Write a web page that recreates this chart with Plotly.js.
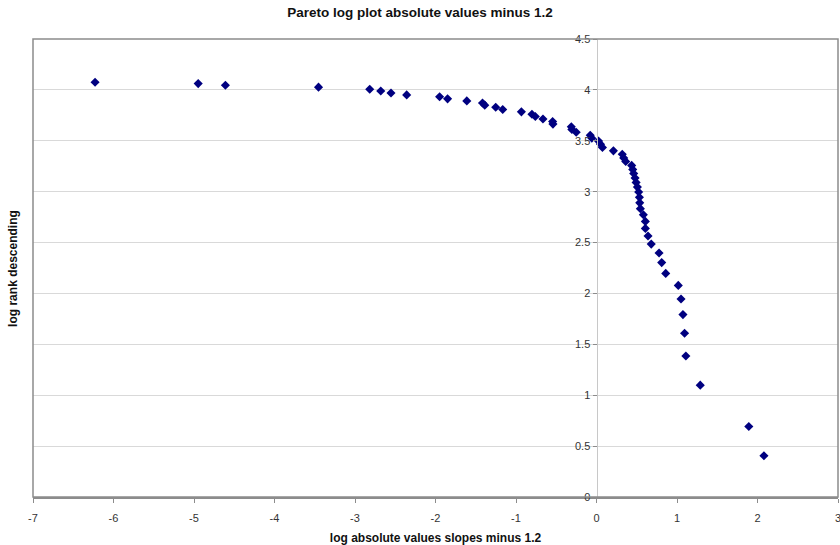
<!DOCTYPE html>
<html>
<head>
<meta charset="utf-8">
<script src="https://cdn.plot.ly/plotly-3.0.1.min.js"></script>
<style>html,body{margin:0;padding:0;background:#fff;}#chart{width:840px;height:545px;}</style>
</head>
<body>
<div id="chart"></div>
<script>
// log absolute values slopes minus 1.2
const logAbsSlopes = [
  -6.229, -4.948, -4.61, -3.453, -2.817, -2.68, -2.553, -2.358, -1.949, -1.85,
  -1.611, -1.416, -1.388, -1.252, -1.165, -0.933, -0.802, -0.76, -0.665, -0.545,
  -0.541, -0.313, -0.306, -0.252, -0.078, -0.058, 0.025, 0.05, 0.074, 0.21,
  0.32, 0.338, 0.363, 0.437, 0.45, 0.462, 0.479, 0.492, 0.508, 0.524,
  0.533, 0.537, 0.545, 0.582, 0.607, 0.607, 0.64, 0.68, 0.777, 0.81,
  0.86, 1.016, 1.05, 1.074, 1.094, 1.11, 1.289, 1.892, 2.08
];
// log rank descending
const logRank = [
  4.075, 4.062, 4.045, 4.027, 4.007, 3.989, 3.970, 3.951, 3.932, 3.912,
  3.892, 3.871, 3.850, 3.829, 3.807, 3.784, 3.761, 3.738, 3.714, 3.689,
  3.664, 3.638, 3.611, 3.584, 3.555, 3.526, 3.497, 3.466, 3.434, 3.401,
  3.367, 3.332, 3.296, 3.258, 3.219, 3.178, 3.135, 3.091, 3.045, 2.996,
  2.944, 2.890, 2.833, 2.773, 2.708, 2.639, 2.565, 2.485, 2.398, 2.303,
  2.197, 2.079, 1.946, 1.792, 1.609, 1.386, 1.099, 0.693, 0.405
];
const xTicks = [-7, -6, -5, -4, -3, -2, -1, 0, 1, 2, 3];
const yTicks = [0, 0.5, 1, 1.5, 2, 2.5, 3, 3.5, 4, 4.5];
const yTickText = ['0', '0.5', '1', '1.5', '2', '2.5', '3', '3.5', '4', '4.5'];

const trace = {
  type: 'scatter', mode: 'markers',
  x: logAbsSlopes, y: logRank,
  marker: {symbol: 'diamond', size: 7, color: '#000080', line: {width: 0}},
  hoverinfo: 'x+y'
};

const layout = {
  width: 840, height: 545,
  margin: {l: 33, r: 2, t: 39, b: 48},
  paper_bgcolor: '#ffffff', plot_bgcolor: '#ffffff',
  font: {family: 'Liberation Sans, Arial, sans-serif', size: 11, color: '#333'},
  showlegend: false,
  title: {
    text: '<b>Pareto log plot absolute values minus 1.2</b>',
    font: {family: 'Liberation Sans Narrow, Liberation Sans, Arial, sans-serif', size: 13.5, color: '#111'},
    x: 0.5, xanchor: 'center', y: 0.978, yanchor: 'middle'
  },
  xaxis: {
    range: [-7, 3], tickvals: xTicks, ticktext: xTicks.map(String),
    showgrid: false, zeroline: false,
    showline: true, linecolor: '#8c8c8c', linewidth: 2,
    ticks: 'outside', ticklen: 4, tickcolor: '#8c8c8c',
    ticklabelstandoff: 6, ticklabeloverflow: 'allow',
    tickfont: {size: 11, color: '#333'},
    title: {text: '<b>log absolute values slopes minus 1.2</b>',
      font: {family: 'Liberation Sans Narrow, Liberation Sans, Arial, sans-serif', size: 12, color: '#111'},
      standoff: 10},
    fixedrange: true
  },
  yaxis: {
    range: [0, 4.5], tickvals: yTicks, ticktext: yTickText,
    anchor: 'free', position: 0.7,
    showgrid: true, gridcolor: '#d9d9d9', gridwidth: 1, zeroline: false,
    showline: true, linecolor: '#c8c8c8', linewidth: 1,
    ticks: 'outside', ticklen: 4, tickcolor: '#8c8c8c',
    tickfont: {size: 11, color: '#333'},
    fixedrange: true
  },
  shapes: [
    {type: 'rect', xref: 'paper', yref: 'paper', x0: 0, x1: 1, y0: 0, y1: 1,
     line: {color: '#8c8c8c', width: 1.5}, fillcolor: 'rgba(0,0,0,0)', layer: 'above'}
  ],
  annotations: [
    {text: '<b>log rank descending</b>', xref: 'paper', yref: 'paper',
     x: -0.025, y: 0.5, xanchor: 'center', yanchor: 'middle', textangle: -90, showarrow: false,
     font: {family: 'Liberation Sans Narrow, Liberation Sans, Arial, sans-serif', size: 12, color: '#111'}}
  ]
};

Plotly.newPlot('chart', [trace], layout, {displayModeBar: false, staticPlot: true});
</script>
</body>
</html>
